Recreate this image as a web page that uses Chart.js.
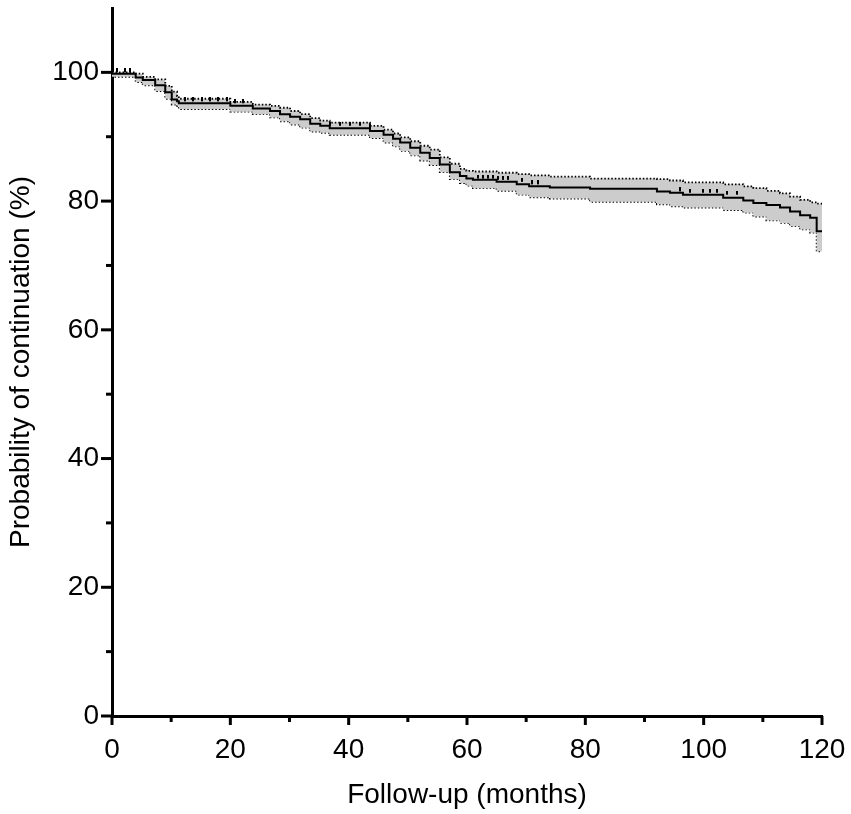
<!DOCTYPE html>
<html>
<head>
<meta charset="utf-8">
<script src="https://cdn.jsdelivr.net/npm/chart.js@4.4.1/dist/chart.umd.min.js"></script>
<style>
  html, body { margin: 0; padding: 0; background: #fff; }
  #wrap { width: 851px; height: 814px; }
</style>
</head>
<body>
<div id="wrap"><canvas id="km-chart" width="851" height="814"></canvas></div>
<script>
// Kaplan-Meier estimate (months, % continuing)
const months = [0, 4.0, 5.2, 7.3, 9.0, 10.1, 11.0, 11.3, 20.0, 23.8, 26.7, 28.4, 30.1, 31.8,
  33.5, 35.2, 36.8, 43.6, 45.9, 47.5, 48.7, 50.4, 52.1, 53.7, 55.4, 57.1, 58.8, 59.9, 61.0,
  65.0, 68.4, 70.5, 74.0, 80.8, 92.1, 94.3, 96.5, 103.3, 106.7, 108.4, 110.6, 112.9, 114.6,
  116.3, 118.0, 119.1, 120];
const survival = [100, 99.8, 99.2, 98.8, 98.0, 96.9, 95.8, 95.5, 95.2, 94.8, 94.4, 94.0, 93.5, 93.1,
  92.7, 92.0, 91.7, 91.3, 90.9, 90.3, 89.7, 89.1, 88.3, 87.5, 86.7, 85.7, 84.5, 83.9, 83.5,
  83.3, 83.0, 82.6, 82.3, 82.1, 81.9, 81.5, 81.3, 81.0, 80.5, 80.1, 79.7, 79.4, 79.0,
  78.4, 77.8, 77.4, 75.3];
const upperCI = [100, 100, 99.8, 99.3, 98.9, 97.9, 97.0, 96.3, 95.9, 95.4, 95.0, 94.8, 94.5, 94.0,
  93.5, 92.9, 92.5, 92.2, 91.7, 91.1, 90.5, 89.9, 89.3, 88.6, 88.0, 86.8, 85.8, 85.0, 84.7,
  84.6, 84.4, 84.2, 84.0, 83.8, 83.5, 83.4, 83.2, 82.9, 82.6, 82.3, 82.0, 81.6, 81.2,
  80.7, 80.2, 79.8, 79.6];
const lowerCI = [100, 99.3, 98.5, 98.0, 97.1, 95.9, 95.0, 94.8, 94.3, 93.9, 93.5, 93.0, 92.4, 91.9,
  91.4, 90.8, 90.6, 90.3, 89.8, 89.1, 88.5, 87.8, 87.1, 86.3, 85.6, 84.5, 83.4, 82.8, 82.4,
  82.0, 81.6, 81.0, 80.6, 80.4, 79.9, 79.5, 79.2, 79.0, 78.6, 78.2, 77.6, 77.0, 76.6,
  76.1, 75.6, 75.1, 72.2];

// censored observations (tick marks on the curve)
const censorMonths = [0.8, 2.2, 3.0, 12.3, 13.7, 15.2, 16.6, 17.9, 19.4, 20.8, 22.1,
  36.8, 38.5, 40.2, 41.9, 43.6, 61.9, 62.7, 63.5, 64.4, 65.2, 66.1, 66.9, 69.3, 71.0, 72.0,
  96.0, 97.7, 99.9, 101.0, 102.2, 103.9, 105.6];

const xTicks = [0, 20, 40, 60, 80, 100, 120];
const yTicks = [0, 20, 40, 60, 80, 100];

const FONT = "'Liberation Sans', Arial, sans-serif";

function toPoints(xs, ys) {
  return xs.map((x, i) => ({ x: x, y: ys[i] }));
}

// value of the step curve at time t
function survivalAt(t) {
  let s = survival[0];
  for (let i = 0; i < months.length; i++) {
    if (months[i] <= t) s = survival[i];
  }
  return s;
}

// small upward tick used for censor marks
function makeCensorMark() {
  const c = document.createElement('canvas');
  c.width = 2;
  c.height = 8;
  const g = c.getContext('2d');
  g.fillStyle = '#000';
  g.fillRect(0, 0, 2, 4);
  return c;
}

// major ticks longer than minor ones
const tickMarks = {
  id: 'tickMarks',
  afterDraw(chart) {
    const ctx = chart.ctx;
    ctx.save();
    ctx.strokeStyle = '#000';
    ctx.lineWidth = 3;
    const xs = chart.scales.x;
    const ys = chart.scales.y;
    for (let v = 0; v <= 120; v += 10) {
      const px = xs.getPixelForValue(v);
      const len = xTicks.includes(v) ? 9 : 6;
      ctx.beginPath();
      ctx.moveTo(px, ys.bottom);
      ctx.lineTo(px, ys.bottom + len);
      ctx.stroke();
    }
    for (let v = 0; v <= 100; v += 10) {
      const py = ys.getPixelForValue(v);
      const len = yTicks.includes(v) ? 11 : 6;
      ctx.beginPath();
      ctx.moveTo(xs.left, py);
      ctx.lineTo(xs.left - len, py);
      ctx.stroke();
    }
    ctx.restore();
  }
};

const ctx = document.getElementById('km-chart').getContext('2d');
const kmChart = new Chart(ctx, {
  type: 'line',
  data: {
    datasets: [
      {
        label: 'Survival',
        data: toPoints(months, survival),
        stepped: 'after',
        borderColor: '#000',
        borderWidth: 2,
        pointRadius: 0,
        fill: false,
        order: 0
      },
      {
        label: 'Censored',
        type: 'scatter',
        data: censorMonths.map(m => ({ x: m, y: survivalAt(m) })),
        pointStyle: makeCensorMark(),
        pointRadius: 4,
        showLine: false,
        order: 1
      },
      {
        label: 'Upper 95% CI',
        data: toPoints(months, upperCI),
        stepped: 'after',
        borderColor: '#000',
        borderWidth: 1.8,
        borderDash: [1.5, 2],
        pointRadius: 0,
        fill: '+1',
        backgroundColor: 'rgb(204,204,204)',
        order: 2
      },
      {
        label: 'Lower 95% CI',
        data: toPoints(months, lowerCI),
        stepped: 'after',
        borderColor: '#000',
        borderWidth: 1.8,
        borderDash: [1.5, 2],
        pointRadius: 0,
        fill: false,
        order: 3
      }
    ]
  },
  options: {
    responsive: false,
    animation: false,
    layout: { padding: { top: 8, right: 29, left: 0, bottom: 0 } },
    plugins: {
      legend: { display: false },
      tooltip: { enabled: false }
    },
    scales: {
      x: {
        type: 'linear',
        min: 0,
        max: 120,
        afterFit: s => {
          s.height = 98;
          s.paddingLeft = 0;
          s.paddingRight = 0;
        },
        afterBuildTicks: s => { s.ticks = xTicks.map(v => ({ value: v })); },
        border: { color: '#000', width: 3 },
        grid: { drawOnChartArea: false, drawTicks: false },
        ticks: {
          color: '#000',
          padding: 17,
          maxRotation: 0,
          font: { family: FONT, size: 28 }
        },
        title: {
          display: true,
          text: 'Follow-up (months)',
          color: '#000',
          font: { family: FONT, size: 28 },
          padding: { top: 0, bottom: 2 }
        }
      },
      y: {
        type: 'linear',
        min: 0,
        max: 110,
        afterFit: s => {
          s.width = 112;
          s.paddingTop = 0;
          s.paddingBottom = 0;
        },
        afterBuildTicks: s => { s.ticks = yTicks.map(v => ({ value: v })); },
        border: { color: '#000', width: 3 },
        grid: { drawOnChartArea: false, drawTicks: false },
        ticks: {
          color: '#000',
          padding: 13,
          font: { family: FONT, size: 28 }
        },
        title: {
          display: true,
          text: 'Probability of continuation (%)',
          color: '#000',
          font: { family: FONT, size: 28 },
          padding: { top: 4, bottom: 0 }
        }
      }
    }
  },
  plugins: [tickMarks]
});
</script>
</body>
</html>
